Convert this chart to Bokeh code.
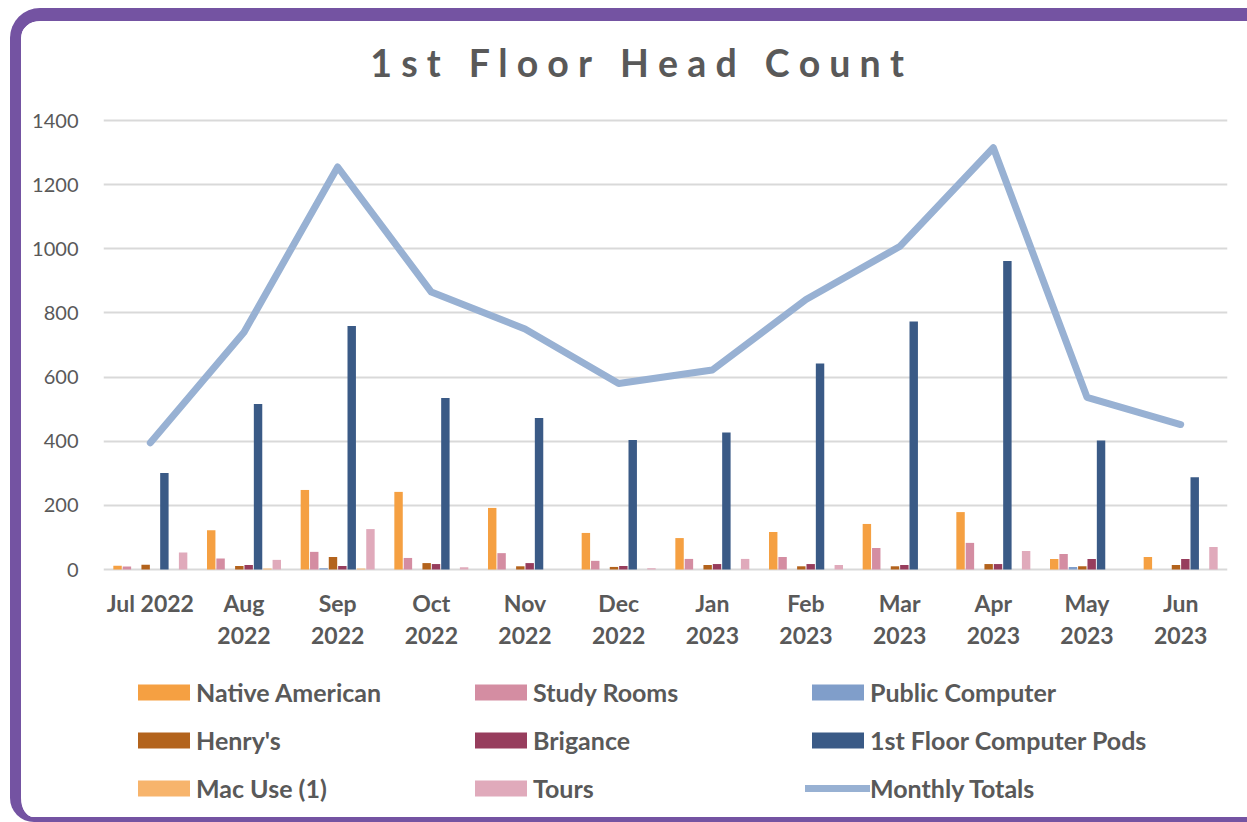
from bokeh.plotting import figure
from bokeh.models import (ColumnDataSource, FactorRange, Range1d, FixedTicker,
                          Legend, LegendItem, Label)
from bokeh.core.properties import value
from bokeh.transform import dodge
from bokeh.embed import file_html
from bokeh.resources import INLINE

months = ["Jul 2022", "Aug\n2022", "Sep\n2022", "Oct\n2022", "Nov\n2022", "Dec\n2022",
          "Jan\n2023", "Feb\n2023", "Mar\n2023", "Apr\n2023", "May\n2023", "Jun\n2023"]
native_american = [12, 122, 248, 242, 192, 114, 98, 117, 142, 179, 33, 39]
study_rooms = [9, 34, 55, 36, 51, 27, 33, 39, 67, 83, 48, 0]
public_computer = [0, 0, 4, 0, 0, 0, 0, 0, 0, 0, 8, 0]
henrys = [15, 11, 39, 20, 10, 8, 14, 10, 10, 17, 10, 14]
brigance = [0, 14, 11, 17, 20, 11, 17, 17, 14, 17, 33, 33]
pods = [301, 516, 759, 535, 472, 404, 427, 642, 773, 962, 402, 288]
mac_use = [0, 3, 3, 0, 0, 0, 0, 0, 0, 0, 0, 0]
tours = [53, 30, 126, 7, 0, 4, 33, 14, 0, 58, 0, 70]
monthly_totals = [395, 740, 1255, 865, 750, 580, 622, 842, 1007, 1315, 537, 452]
y_ticks = [0, 200, 400, 600, 800, 1000, 1200, 1400]

series_names = ["Native American", "Study Rooms", "Public Computer", "Henry's",
                "Brigance", "1st Floor Computer Pods", "Mac Use (1)", "Tours"]
series_keys = ["native", "study", "public", "henrys", "brigance", "pods", "mac", "tours"]
series_colors = ["#F5A042", "#D48DA2", "#809ECA", "#B3631C", "#973D5D", "#3A5A86",
                 "#F7B46C", "#E0AABB"]

source = ColumnDataSource(data=dict(
    month=months, native=native_american, study=study_rooms, public=public_computer,
    henrys=henrys, brigance=brigance, pods=pods, mac=mac_use, tours=tours,
    total=monthly_totals, zero=[0] * len(months)))

FONT = "Lato"
GRAY = "#595959"
PURPLE = "#7453A2"

# layout geometry (pixels): the frame fills the card vertically; the value
# axis (0..1400) occupies 449 px of it, with room above for the title and
# below for the category labels and the legend
Y_MAX = 1400
AXIS_PX = 449
ABOVE_PX = 99
BELOW_ZERO_PX = 266
y_min = -BELOW_ZERO_PX * Y_MAX / AXIS_PX
y_max = Y_MAX + ABOVE_PX * Y_MAX / AXIS_PX

p = figure(width=1237, height=814, x_range=FactorRange(*months, range_padding=0),
           y_range=Range1d(y_min, y_max), output_backend="svg", toolbar_location=None,
           x_axis_location=None,
           min_border_left=82, min_border_right=31, min_border_top=0,
           min_border_bottom=0)
p.styles = {
    "overflow": "hidden",
    "margin-left": "10px", "margin-top": "8px",
    "border-left": f"11px solid {PURPLE}", "border-top": f"13px solid {PURPLE}",
    "border-bottom": f"5px solid {PURPLE}",
    "border-top-left-radius": "30px", "border-bottom-left-radius": "24px",
}
p.outline_line_color = None
p.background_fill_color = "white"
p.border_fill_color = "white"

title = Label(x=534, y=773, x_units="screen", y_units="screen",
              text="1 s t\u2003F l o o r\u2003H e a d\u2003C o u n t",
              text_font=FONT, text_font_size="37.5px", text_font_style="bold",
              text_color=GRAY, text_align="center", text_baseline="middle")
p.add_layout(title)

renderers = []
for i, (key, col) in enumerate(zip(series_keys, series_colors)):
    r = p.vbar(x=dodge("month", (i - 3.5) * 0.1, range=p.x_range), top=key,
               width=0.09, source=source, fill_color=col, line_color=None)
    renderers.append(r)

line_r = p.line(x="month", y="total", source=source, line_color="#98B1D3",
                line_width=7, line_join="round", line_cap="round")
renderers.append(line_r)

# category labels under the zero line
p.text(x="month", y="zero", text="month", source=source, y_offset=19,
       text_align="center", text_baseline="top", text_font=value(FONT),
       text_font_size=value("23px"), text_font_style="bold", text_color=GRAY,
       text_line_height=1.16)

p.ygrid.ticker = FixedTicker(ticks=y_ticks)
p.ygrid.grid_line_color = "#D9D9D9"
p.ygrid.grid_line_width = 2
p.xgrid.grid_line_color = None

p.yaxis.ticker = FixedTicker(ticks=y_ticks)
p.yaxis.axis_line_color = None
p.yaxis.major_tick_line_color = None
p.yaxis.minor_tick_line_color = None
p.yaxis.major_label_text_font = FONT
p.yaxis.major_label_text_font_size = "20px"
p.yaxis.major_label_text_color = GRAY
p.yaxis.major_label_standoff = 19

names_all = series_names + ["Monthly Totals"]
leg = Legend(items=[LegendItem(label=n, renderers=[r]) for n, r in zip(names_all, renderers)],
             location=(28, 32), orientation="horizontal", ncols=3,
             glyph_width=65, glyph_height=20, label_height=30, label_width=254,
             spacing=18, padding=0, margin=0, label_standoff=0,
             border_line_color=None, background_fill_alpha=0,
             label_text_font=FONT, label_text_font_size="25px",
             label_text_font_style="bold", label_text_color=GRAY)
p.add_layout(leg, "center")

open("out.html", "w").write(file_html(p, INLINE))
